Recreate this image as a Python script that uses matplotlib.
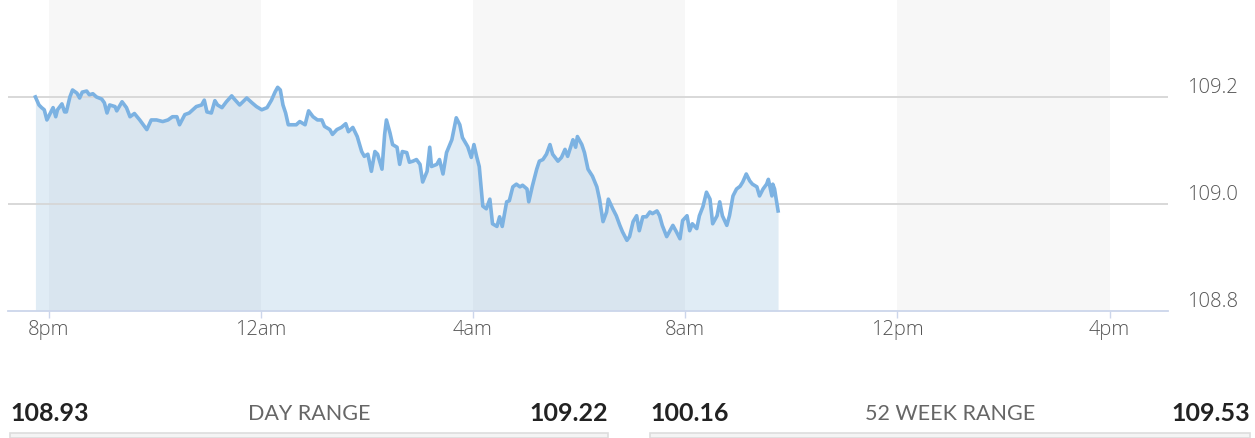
"""
Intraday price chart with day / 52-week range strip underneath.
"""

import matplotlib.pyplot as plt
from matplotlib.patches import Rectangle

# minutes after 8pm (previous evening) and last price
minutes = [
    -15, -11, -8, -5, -2, 1, 5, 8, 10, 15, 18, 20, 24, 27, 32, 35, 38, 43, 46, 50,
    54, 60, 63, 66, 69, 75, 77, 83, 88, 92, 97, 103, 111, 116, 122, 129, 135, 140, 145, 148,
    154, 159, 167, 173, 176, 179, 184, 188, 191, 196, 201, 207, 210, 216, 224, 230, 235, 241, 247, 252,
    256, 259, 262, 265, 268, 271, 276, 280, 284, 290, 294, 299, 304, 309, 312, 318, 321, 326, 331, 336,
    339, 344, 349, 354, 357, 361, 365, 369, 372, 377, 380, 382, 386, 389, 394, 397, 400, 405, 408, 412,
    416, 420, 423, 428, 431, 433, 439, 442, 446, 450, 456, 459, 461, 465, 468, 474, 478, 481, 484, 487,
    491, 495, 499, 502, 507, 510, 513, 518, 521, 525, 529, 533, 536, 541, 543, 547, 552, 555, 559, 563,
    567, 570, 576, 580, 584, 587, 593, 596, 598, 603, 606, 610, 615, 620, 623, 627, 631, 633, 638, 642,
    646, 649, 654, 657, 661, 665, 668, 672, 676, 680, 683, 688, 691, 694, 699, 702, 706, 710, 714, 717,
    722, 725, 728, 733, 736, 740, 744, 748, 751, 756, 759, 762, 767, 770, 774, 778, 782, 785, 789, 793,
    796, 801, 804, 808, 812, 814, 818, 819, 821, 825,
]
prices = [
    109.200, 109.185, 109.180, 109.176, 109.157, 109.167, 109.180, 109.163, 109.176, 109.187,
    109.172, 109.172, 109.200, 109.213, 109.207, 109.198, 109.209, 109.211, 109.204, 109.206,
    109.200, 109.196, 109.189, 109.170, 109.185, 109.182, 109.174, 109.191, 109.180, 109.163,
    109.169, 109.157, 109.139, 109.157, 109.157, 109.154, 109.157, 109.163, 109.163, 109.148,
    109.167, 109.170, 109.182, 109.185, 109.194, 109.172, 109.170, 109.193, 109.185, 109.180,
    109.191, 109.202, 109.196, 109.185, 109.198, 109.189, 109.182, 109.176, 109.180, 109.194,
    109.209, 109.218, 109.213, 109.185, 109.170, 109.148, 109.148, 109.148, 109.154, 109.148,
    109.174, 109.163, 109.157, 109.157, 109.145, 109.139, 109.130, 109.139, 109.143, 109.150,
    109.135, 109.143, 109.126, 109.098, 109.089, 109.093, 109.061, 109.098, 109.093, 109.065,
    109.130, 109.157, 109.133, 109.111, 109.106, 109.074, 109.098, 109.096, 109.078, 109.080,
    109.083, 109.074, 109.041, 109.061, 109.106, 109.070, 109.074, 109.083, 109.056, 109.096,
    109.120, 109.145, 109.161, 109.148, 109.124, 109.107, 109.087, 109.111, 109.089, 109.070,
    108.996, 108.991, 109.009, 108.963, 108.958, 108.976, 108.958, 109.004, 109.006, 109.032,
    109.037, 109.032, 109.035, 109.028, 109.004, 109.033, 109.065, 109.080, 109.083, 109.093,
    109.111, 109.093, 109.080, 109.087, 109.102, 109.089, 109.120, 109.106, 109.126, 109.111,
    109.096, 109.065, 109.052, 109.032, 109.009, 108.967, 108.985, 109.009, 108.991, 108.978,
    108.960, 108.948, 108.932, 108.939, 108.967, 108.978, 108.950, 108.976, 108.976, 108.985,
    108.982, 108.987, 108.978, 108.960, 108.939, 108.948, 108.960, 108.948, 108.935, 108.969,
    108.978, 108.950, 108.963, 108.954, 108.978, 108.995, 109.022, 109.009, 108.963, 108.978,
    109.004, 108.978, 108.960, 108.978, 109.015, 109.028, 109.033, 109.041, 109.056, 109.043,
    109.037, 109.032, 109.015, 109.028, 109.037, 109.046, 109.015, 109.037, 109.028, 108.987,
]

band_starts = [0, 480, 960]      # shaded 4h blocks (minutes after 8pm)
band_hours = 4
tick_minutes = [0, 240, 480, 720, 960, 1200]
tick_labels = ["8pm", "12am", "4am", "8am", "12pm", "4pm"]
y_ticks = [108.8, 109.0, 109.2]
y_labels = ["108.8", "109.0", "109.2"]

day_low, day_high = "108.93", "109.22"
week_low, week_high = "100.16", "109.53"

W, H = 1255, 439
fig = plt.figure(figsize=(W / 100, H / 100), dpi=100)
ax = fig.add_axes([8 / W, 127 / H, 1160 / W, 312 / H])

ax.set_xlim(-46, 1266)
ax.set_ylim(108.8, 109.383)

for start in band_starts:
    ax.axvspan(start, start + band_hours * 60, color="#f7f7f7", lw=0, zorder=0)

ax.fill_between(minutes, prices, 108.8, color="#4a8fc8", alpha=0.17, lw=0, zorder=1)
for yv in y_ticks[1:]:
    ax.axhline(yv, color="#d6d6d6", lw=1.3, zorder=2)
ax.plot(minutes, prices, color="#7cb2e2", lw=2.6, solid_joinstyle="round", zorder=3)

for s in ["top", "right", "left"]:
    ax.spines[s].set_visible(False)
ax.spines["bottom"].set_color("#ccd6eb")
ax.spines["bottom"].set_linewidth(1.3)
ax.set_yticks([])
ax.set_xticks(tick_minutes)
ax.set_xticklabels(tick_labels, fontsize=14.5, color="#555555", family="Open Sans",
                   fontweight="light")
ax.tick_params(axis="x", length=5, color="#ccd6eb", width=1, pad=1)

for yv, lab in zip(y_ticks, y_labels):
    ax.annotate(lab, xy=(1.0, yv), xycoords=("axes fraction", "data"),
                xytext=(14, 0), textcoords="offset points",
                ha="left", va="bottom", fontsize=14.5, color="#555555", family="Open Sans",
                fontweight="light")

# range strip at the bottom
rows = [
    (10, 608, day_low, "DAY RANGE", day_high),
    (650, 1250, week_low, "52 WEEK RANGE", week_high),
]
for x0, x1, lo, label, hi in rows:
    ty = 1 - 414 / H
    fig.text(x0 / W, ty, lo, ha="left", va="center", fontsize=18, fontweight="bold",
             color="#222222", family="Lato")
    fig.text(x1 / W, ty, hi, ha="right", va="center", fontsize=18, fontweight="bold",
             color="#222222", family="Lato")
    fig.text((x0 + x1) / 2 / W, ty, label, ha="center", va="center", fontsize=15.5,
             color="#666666", family="Lato")
    fig.add_artist(Rectangle((x0 / W, 0), (x1 - x0) / W, 5 / H, transform=fig.transFigure,
                             facecolor="#f4f4f4", edgecolor="#dddddd", lw=1.2))

fig.savefig("out.png", dpi=100)
